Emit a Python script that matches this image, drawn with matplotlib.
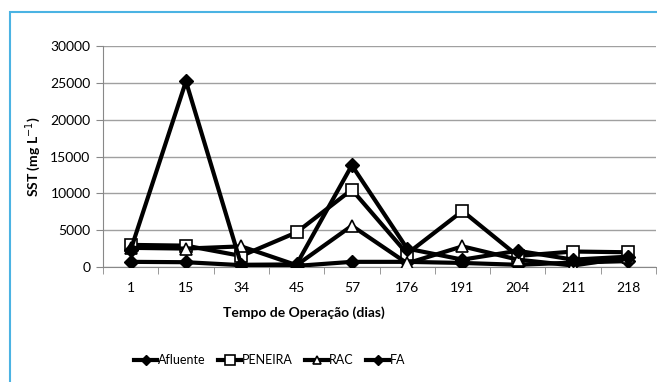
import matplotlib
matplotlib.use("Agg")
import matplotlib.pyplot as plt
import numpy as np
from matplotlib.patches import Rectangle

plt.rcParams['font.family'] = ['Lato', 'DejaVu Sans']

# tempo de operacao (dias)
dias = ['1', '15', '34', '45', '57', '176', '191', '204', '211', '218']

# SST (mg/L)
afluente = [700, 650, 250, 150, 700, 700, 550, 300, 600, 800]
peneira = [3000, 2900, 1500, 4700, 10500, 1800, 7600, 1500, 2100, 2000]
rac = [2600, 2500, 2800, 250, 5600, 500, 2800, 1000, 200, 1300]
fa = [2300, 25200, 300, 350, 13800, 2500, 1000, 2200, 1000, 1400]

W, H = 657, 382
fig = plt.figure(figsize=(W/100, H/100), dpi=100)

# light blue frame of the original chart box
fig.patches.append(Rectangle((10/W, -0.1), 1.2, 1 - 12/H + 0.1, transform=fig.transFigure,
                             fill=False, edgecolor='#4BB3E3', linewidth=1.5))

ax = fig.add_axes([103/W, 1 - 267/H, 553/W, 221/H])
x = np.arange(len(dias))

lw = 3.0
ax.plot(x, afluente, color='black', lw=lw, marker='D', ms=7, mfc='black', label='Afluente', zorder=3)
ax.plot(x, peneira, color='black', lw=lw, marker='s', ms=9, mfc='white', mew=1.2, label='PENEIRA', zorder=3)
ax.plot(x, rac, color='black', lw=lw, marker='^', ms=8.5, mfc='white', mew=1.2, label='RAC', zorder=3)
ax.plot(x, fa, color='black', lw=lw, marker='D', ms=7, mfc='black', label='FA', zorder=3)

ax.set_xlim(-0.5, len(dias) - 0.5)
ax.set_ylim(0, 30000)
ax.set_yticks(np.arange(0, 30001, 5000))
ax.set_xticks(x)
ax.set_xticklabels(dias)
ax.set_xticks(np.arange(-0.5, len(dias), 1), minor=True)
ax.tick_params(axis='x', which='major', length=0, pad=11, labelsize=10)
ax.tick_params(axis='x', which='minor', length=5, color='#888888', direction='out')
ax.tick_params(axis='y', length=5, color='#888888', labelsize=10, pad=4)
ax.grid(axis='y', color='#A0A0A0', lw=1)
ax.set_axisbelow(True)
for s in ['top', 'right']:
    ax.spines[s].set_visible(False)
for s in ['left', 'bottom']:
    ax.spines[s].set_color('#888888')

fig.text(33/W, 1 - 157/H, 'SST (mg L$^{-1}$)', rotation=90, ha='center', va='center',
         fontsize=10, fontweight='bold')
fig.text(304/W, 1 - 313/H, 'Tempo de Operação (dias)', ha='center', va='center',
         fontsize=10, fontweight='bold')

leg = fig.legend(loc='center', bbox_to_anchor=(270/W, 1 - 360/H), ncol=4, frameon=False,
                 fontsize=9, handlelength=1.8, handletextpad=0.1, columnspacing=1.0,
                 markerscale=0.75)

fig.savefig('out.png', dpi=100)
